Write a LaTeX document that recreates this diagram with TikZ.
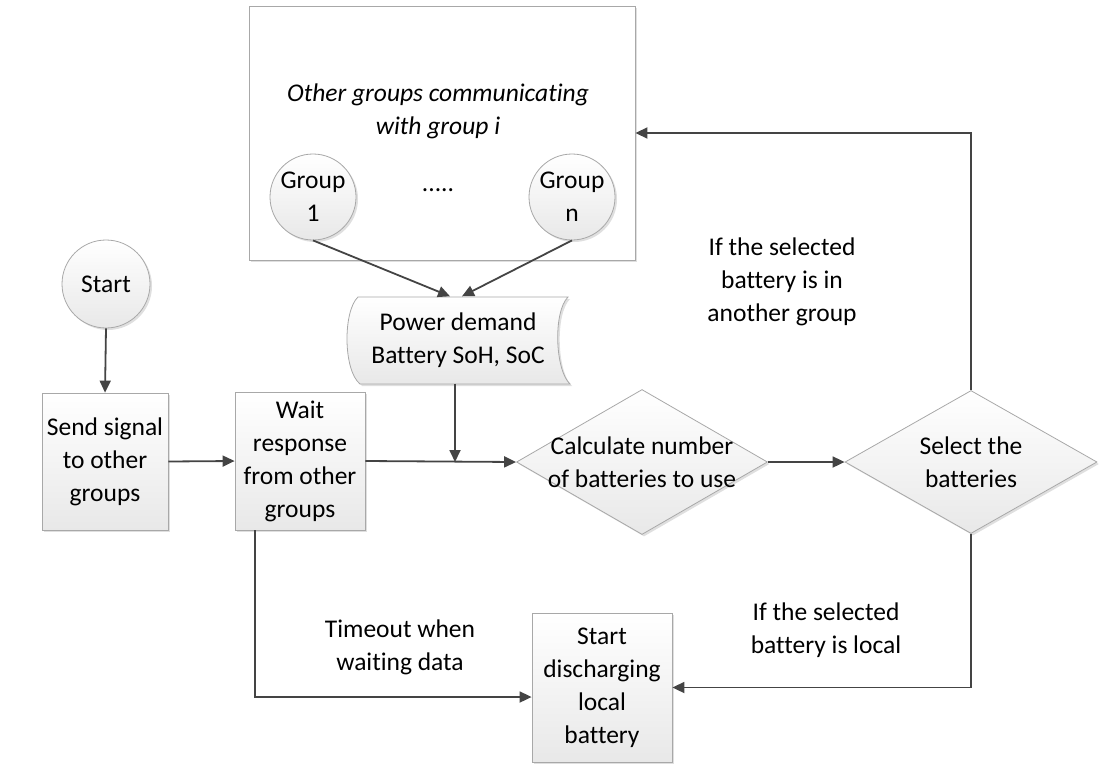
\documentclass[tikz,border=0pt]{standalone}
\usepackage{fontspec}
\setmainfont{Carlito}[RawFeature={-liga,-clig,-calt,-dlig,-rlig}]
\usetikzlibrary{shapes.geometric,arrows.meta,shadows}
\definecolor{linec}{HTML}{444444}
\definecolor{bordc}{HTML}{A8A8A8}
\tikzset{
  every node/.style={font=\fontsize{25.5}{33}\selectfont, align=center, text=black},
  shd/.style={drop shadow={shadow xshift=2pt, shadow yshift=-2pt, opacity=0.25, fill=black!50}},
  boxst/.style={rectangle, draw=bordc, line width=0.8pt, top color=white, bottom color=black!9, shd, inner sep=0pt},
  circst/.style={circle, draw=bordc, line width=0.8pt, top color=white, bottom color=black!9, shd, inner sep=0pt, minimum size=86pt},
  diast/.style={diamond, draw=bordc, line width=0.8pt, top color=white, bottom color=black!9, shd, inner sep=0pt, minimum width=251pt, minimum height=145pt},
  arr/.style={draw=linec, line width=1.8pt, -{Triangle[length=12pt,width=11pt]}},
  lbl/.style={inner sep=0pt}
}
\begin{document}
\begin{tikzpicture}[x=1pt,y=-1pt]
\useasboundingbox (0,0) rectangle (1107,771);
% big box
\node[rectangle, draw=bordc, line width=0.9pt, fill=white, shd, minimum width=386pt, minimum height=254pt] (grp) at (442,133) {};
\node[lbl, font=\fontsize{25.5}{33}\selectfont\itshape] (grptxt) at (438,111) {Other groups communicating\\with group i};
\node[circst] (g1) at (313,197) {Group\\1};
\node[circst] (gn) at (572,197) {Group\\n};
\node[lbl] (dots) at (438,190) {.....};
% power demand
\node[minimum width=212pt, minimum height=87pt, inner sep=0pt] (pd) at (458,340) {};
\path[draw=bordc, line width=0.8pt, top color=white, bottom color=black!9, shd]
  (358,297) -- (568,297) .. controls (553,312) and (555,370) .. (570,384)
  -- (360,384) .. controls (343,370) and (343,311) .. (358,297) -- cycle;
\node[lbl] (pdtxt) at (pd.center) {Power demand\\Battery SoH, SoC};
% start
\node[circst, minimum size=88pt] (start) at (106,284) {Start};
\node[boxst, minimum width=126pt, minimum height=137pt] (send) at (105,461.5) {Send signal\\to other\\groups};
\node[boxst, minimum width=130pt, minimum height=138pt] (wait) at (300,461) {Wait\\response\\from other\\groups};
\node[diast] (calc) at (642,462) {};
\node[lbl] (calctxt) at (calc.center) {Calculate number\\of batteries to use};
\node[diast, minimum width=252pt, minimum height=143pt] (sel) at (971,462) {};
\node[lbl] (seltxt) at (sel.center) {Select the\\batteries};
\node[boxst, minimum width=140pt, minimum height=149pt] (disch) at (602,687.5) {Start\\discharging\\local\\battery};
% labels
\node[lbl] (l1) at (782,282) {If the selected\\battery is in\\another group};
\node[lbl] (l2) at (826,630) {If the selected\\battery is local};
\node[lbl] (l3) at (400,647) {Timeout when\\waiting data};
% connectors
\draw[arr] (g1.south) -- ([xshift=-8pt]pd.north);
\draw[arr] (gn.south) -- ([xshift=4pt]pd.north);
\draw[arr] (start.south) -- (send.north);
\draw[arr] (send.east) -- (wait.east -| wait.west);
\draw[arr] (wait.east) -- (calc.west);
\coordinate (jn) at (pd.south |- calc.west);
\draw[arr] ([xshift=-3pt]pd.south) -- ([xshift=-3pt]jn);
\draw[arr] (calc.east) -- (sel.west);
\draw[arr] (sel.north) |- (grp.east);
\draw[arr] (sel.south) |- (disch.east);
\draw[arr] ([xshift=-45pt]wait.south) |- ([yshift=-9.5pt]disch.west);
\end{tikzpicture}
\end{document}
